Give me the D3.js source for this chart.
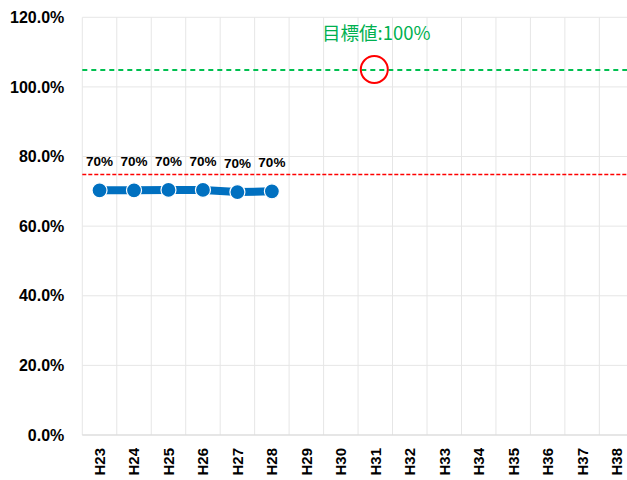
<!DOCTYPE html>
<html><head><meta charset="utf-8">
<script src="https://cdn.jsdelivr.net/npm/d3@7"></script>
<style>body{margin:0;background:#fff}svg{display:block}</style>
</head><body>
<svg id="c" width="627" height="480"></svg>
<script>
const categories = ["H23","H24","H25","H26","H27","H28","H29","H30","H31","H32","H33","H34","H35","H36","H37","H38"];
const actualValues = [0.703,0.703,0.704,0.704,0.698,0.700];
const actualLabels = ["70%","70%","70%","70%","70%","70%"];
const yTicks = [0,0.2,0.4,0.6,0.8,1.0,1.2];
const targetLine = 1.05;
const redLine = 0.75;
const targetText = "目標値:100%";
const targetCategory = "H31";

(function(){
const svg = d3.select("#c");
const pLeft = 82.3, pTop = 17.3, pBottom = 435, pRight = 82.3 + 16*34.47;
const x = d3.scaleBand().domain(categories).range([pLeft, pRight]);
const y = d3.scaleLinear().domain([0,1.2]).range([pBottom, pTop]);
const font = "'Liberation Sans', Arial, sans-serif";

// gridlines
svg.append("g").selectAll("line").data(yTicks).join("line")
  .attr("x1", pLeft).attr("x2", pRight).attr("y1", d=>y(d)).attr("y2", d=>y(d))
  .attr("stroke", "#e6e6e6").attr("stroke-width", 1);
svg.append("g").selectAll("line").data(categories).join("line")
  .attr("x1", d=>x(d)+x.step()).attr("x2", d=>x(d)+x.step())
  .attr("y1", pTop).attr("y2", pBottom).attr("stroke", "#e6e6e6");
svg.append("line").attr("x1", pLeft).attr("x2", pLeft).attr("y1", pTop).attr("y2", pBottom).attr("stroke", "#e6e6e6");
svg.append("line").attr("x1", pLeft).attr("x2", pRight).attr("y1", pBottom).attr("y2", pBottom).attr("stroke", "#d9d9d9");

// y axis labels
const yAxis = d3.axisLeft(y).tickValues(yTicks).tickFormat(d3.format(".1%")).tickSize(0).tickPadding(18);
const ya = svg.append("g").attr("transform", `translate(${pLeft},0)`).call(yAxis);
ya.select(".domain").remove();
ya.selectAll("text").attr("font-family", font).attr("font-weight", "bold").attr("font-size", 16).attr("fill", "#000");

// x axis labels
const xAxis = d3.axisBottom(x).tickSize(0).tickPadding(0);
const xa = svg.append("g").attr("transform", `translate(0,${pBottom})`).call(xAxis);
xa.select(".domain").remove();
xa.selectAll("text").attr("font-family", font).attr("font-weight", "bold").attr("font-size", 15).attr("fill", "#000")
  .attr("transform", "rotate(-90)").attr("text-anchor", "end").attr("dy", "0.36em").attr("x", -13).attr("y", 0);

// reference lines
svg.append("line").attr("x1", pLeft).attr("x2", pRight).attr("y1", Math.round(y(targetLine))).attr("y2", Math.round(y(targetLine)))
  .attr("stroke", "#00C050").attr("stroke-width", 2).attr("stroke-dasharray", "5,4");
svg.append("line").attr("x1", pLeft).attr("x2", pRight).attr("y1", Math.round(y(redLine)) + 0.5).attr("y2", Math.round(y(redLine)) + 0.5)
  .attr("stroke", "#FF0000").attr("stroke-width", 1.5).attr("stroke-dasharray", "4,2");

// target circle + text
const cx = x(targetCategory) + x.bandwidth()/2 - 1;
svg.append("circle").attr("cx", cx).attr("cy", y(targetLine)).attr("r", 13.5)
  .attr("fill", "none").attr("stroke", "#FF0000").attr("stroke-width", 2);
svg.append("text").attr("x", 322).attr("y", 39.5).attr("text-anchor", "start")
  .attr("font-family", "'Noto Sans CJK JP', sans-serif").attr("font-size", 18.5).attr("fill", "#00B050").text(targetText);

// series
const pts = actualValues.map((v,i)=>({c:categories[i], v, l:actualLabels[i]}));
const px = d=>x(d.c)+x.bandwidth()/2;
svg.append("path").datum(pts)
  .attr("d", d3.line().x(px).y(d=>y(d.v)))
  .attr("fill", "none").attr("stroke", "#0070C0").attr("stroke-width", 8);
svg.append("g").selectAll("circle").data(pts).join("circle")
  .attr("cx", px).attr("cy", d=>y(d.v)).attr("r", 7.5)
  .attr("fill", "#0070C0").attr("stroke", "#fff").attr("stroke-width", 1.2);
svg.append("g").selectAll("text").data(pts).join("text")
  .attr("x", px).attr("y", d=>y(d.v) - 24).attr("text-anchor", "middle")
  .attr("font-family", font).attr("font-weight", "bold").attr("font-size", 13.5).attr("fill", "#000")
  .text(d=>d.l);
})();
</script>
</body></html>
